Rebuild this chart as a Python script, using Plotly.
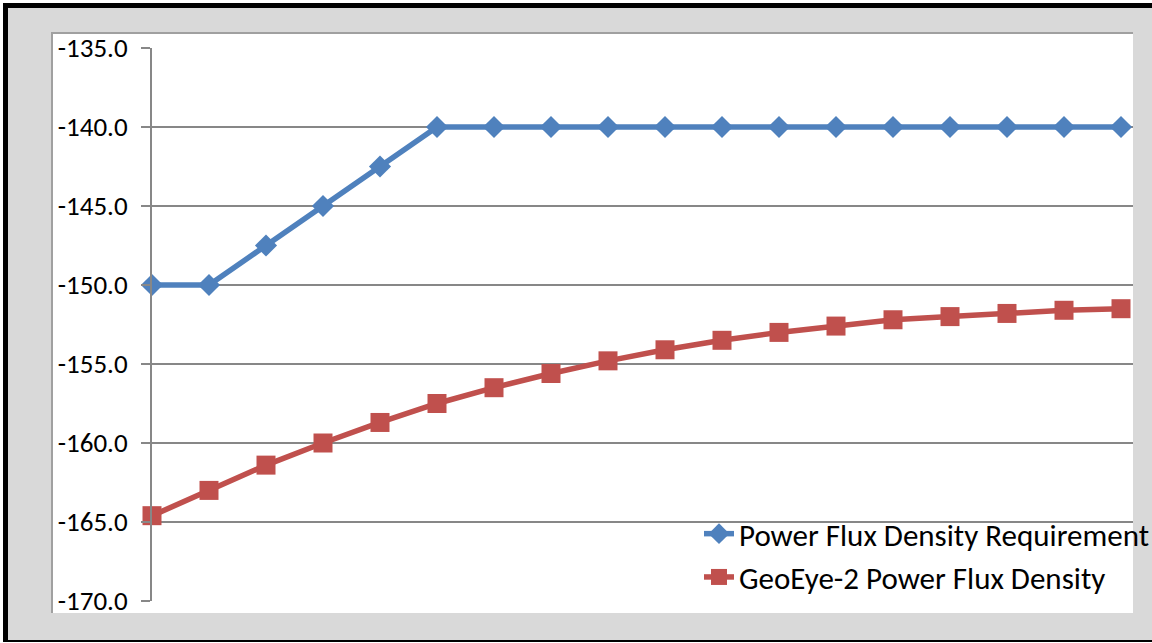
import plotly.graph_objects as go

# ---- data ----
x_index = list(range(18))
requirement = [-150.0, -150.0, -147.5, -145.0, -142.5, -140.0,
               -140.0, -140.0, -140.0, -140.0, -140.0, -140.0,
               -140.0, -140.0, -140.0, -140.0, -140.0, -140.0]
geoeye2 = [-164.6, -163.0, -161.4, -160.0, -158.7, -157.5,
           -156.5, -155.6, -154.8, -154.1, -153.5, -153.0,
           -152.6, -152.2, -152.0, -151.8, -151.6, -151.5]
y_tickvals = [-170, -165, -160, -155, -150, -145, -140, -135]
y_ticktext = ["-170.0", "-165.0", "-160.0", "-155.0", "-150.0", "-145.0", "-140.0", "-135.0"]
series_names = ["Power Flux Density Requirement", "GeoEye-2 Power Flux Density"]

# ---- layout geometry (pixels) ----
W, H = 1152, 643
ML, MR, MT, MB = 152, 19, 48, 42
PW = W - ML - MR
PH = H - MT - MB


def xp(px):
    return (px - ML) / PW


def yp(py):
    return (H - MB - py) / PH


FONT = "Calibri, Carlito, Liberation Sans, Arial, sans-serif"
GRID = "#878787"

fig = go.Figure()
fig.add_trace(go.Scatter(
    x=x_index, y=requirement, name=series_names[0], mode="lines+markers",
    line=dict(color="#4F81BD", width=5.5),
    marker=dict(symbol="diamond", size=17, color="#4F81BD"),
    cliponaxis=False, legendgroup="a",
))
fig.add_trace(go.Scatter(
    x=x_index, y=geoeye2, name=series_names[1], mode="lines+markers",
    line=dict(color="#C0504D", width=5.5),
    marker=dict(symbol="square", size=19, color="#C0504D"),
    cliponaxis=False, legendgroup="b",
))

shapes = [
    dict(type="rect", xref="paper", yref="paper", x0=xp(3), x1=xp(1160), y0=yp(3), y1=yp(642),
         fillcolor="black", line=dict(width=0), layer="below"),
    dict(type="rect", xref="paper", yref="paper", x0=xp(8), x1=xp(1160), y0=yp(8), y1=yp(640),
         fillcolor="#D9D9D9", line=dict(width=0), layer="below"),
    dict(type="rect", xref="paper", yref="paper", x0=xp(52), x1=xp(1133), y0=yp(33), y1=yp(613),
         fillcolor="white", line=dict(width=0), layer="below"),
    dict(type="line", xref="paper", yref="paper", x0=xp(52), x1=xp(52), y0=yp(32), y1=yp(613),
         line=dict(color="#A0A0A0", width=2), layer="below"),
    dict(type="line", xref="paper", yref="paper", x0=xp(51), x1=xp(1133), y0=yp(33), y1=yp(33),
         line=dict(color="#A0A0A0", width=2), layer="below"),
]

fig.update_layout(
    width=W, height=H,
    margin=dict(l=ML, r=MR, t=MT, b=MB, pad=0, autoexpand=False),
    paper_bgcolor="white", plot_bgcolor="white",
    shapes=shapes,
    font=dict(family=FONT, color="black"),
    showlegend=True,
    legend=dict(
        x=xp(699), y=yp(507), xanchor="left", yanchor="top",
        bgcolor="rgba(0,0,0,0)", borderwidth=0,
        font=dict(family=FONT, size=31, color="black"),
        traceorder="grouped", tracegroupgap=0,
    ),
    xaxis=dict(range=[0, (1133 - ML) / 57.0], showgrid=False, zeroline=False,
               showticklabels=False, ticks="", showline=False, fixedrange=True),
    yaxis=dict(range=[-170, -135], tickvals=y_tickvals, ticktext=y_ticktext,
               showgrid=True, gridcolor=GRID, gridwidth=2,
               showline=True, linecolor=GRID, linewidth=2,
               ticks="outside", ticklen=9, tickcolor=GRID, tickwidth=2,
               ticklabelstandoff=8, zeroline=False,
               tickfont=dict(family=FONT, size=27, color="black")),
)

fig.write_html("out.html")
